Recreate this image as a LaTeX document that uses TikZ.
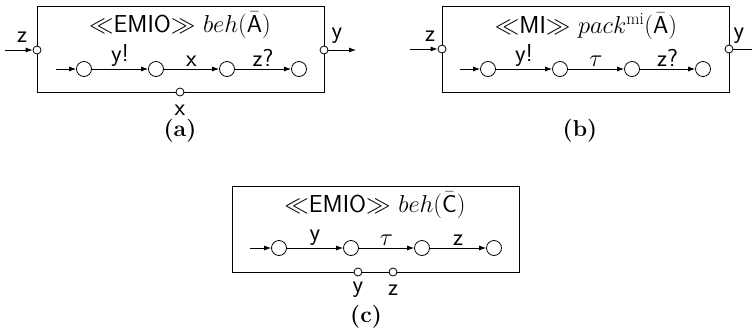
\RequirePackage{fix-cm}
\documentclass[tikz,border=0pt]{standalone}
\usepackage{fontspec}
\usetikzlibrary{arrows.meta}
\newcommand{\bigf}{\fontsize{24.5pt}{28pt}\selectfont}
\tikzset{
  box/.style={draw,line width=0.8pt},
  st/.style={draw,circle,minimum size=15pt,inner sep=0pt,line width=0.8pt},
  port/.style={draw,circle,fill=white,minimum size=8pt,inner sep=0pt,line width=0.8pt},
  tr/.style={line width=0.8pt,-{Latex[length=7pt,width=5pt]}},
  lbl/.style={above,inner sep=2.5pt,font=\bigf\sffamily},
  txt/.style={font=\bigf\sffamily},
  figcap/.style={font=\fontsize{23pt}{27pt}\selectfont\bfseries\rmfamily},
  ttl/.style={inner sep=0pt,font=\bigf\sffamily}}
\begin{document}
\begin{tikzpicture}[x=1pt,y=-1pt,font=\bigf\sffamily]
\useasboundingbox (0,0) rectangle (752,335);
% ---------- (a)
\node[box,minimum width=287pt,minimum height=86pt,inner sep=0pt] (ba) at (180.5,49) {};
\node[ttl] (ta) at (180,25) {$\ll$EMIO$\gg$ $beh(\bar{\textsf{A}})$};
\node[port] (pza) at (37,50) {};
\node[port] (pya) at (324,50) {};
\node[port] (pxa) at (180,92) {};
\coordinate (iza) at (5,50);
\coordinate (oya) at (356,50);
\draw[tr] (iza) -- (pza);
\draw[tr] (pya) -- (oya);
\node[txt] (lza) at (22,37) {z};
\node[txt] (lya) at (337,36) {y};
\node[txt] (lxa) at (180,110) {x};
\node[st] (a1) at (84,69) {};
\node[st] (a2) at (156,69) {};
\node[st] (a3) at (227,69) {};
\node[st] (a4) at (299,69) {};
\coordinate (a0) at (56,69);
\draw[tr] (a0) -- (a1);
\draw[tr] (a1) -- node[lbl] {y!} (a2);
\draw[tr] (a2) -- node[lbl] {x} (a3);
\draw[tr] (a3) -- node[lbl] {z?} (a4);
\node[figcap] (ca) at (180,131) {(a)};
% ---------- (b)
\node[box,minimum width=287pt,minimum height=86pt,inner sep=0pt] (bb) at (585.5,49) {};
\node[ttl] (tb) at (586,26) {$\ll$MI$\gg$ $pack^{\mathrm{mi}}(\bar{\textsf{A}})$};
\node[port] (pzb) at (442,49) {};
\node[port] (pyb) at (729,49) {};
\coordinate (izb) at (410,49);
\coordinate (oyb) at (762,49);
\draw[tr] (izb) -- (pzb);
\draw[tr] (pyb) -- (oyb);
\node[txt] (lzb) at (430,36) {z};
\node[txt] (lyb) at (739,36) {y};
\node[st] (b1) at (488,69) {};
\node[st] (b2) at (560,69) {};
\node[st] (b3) at (632,69) {};
\node[st] (b4) at (703,69) {};
\coordinate (b0) at (460,69);
\draw[tr] (b0) -- (b1);
\draw[tr] (b1) -- node[lbl] {y!} (b2);
\draw[tr] (b2) -- node[lbl] {$\tau$} (b3);
\draw[tr] (b3) -- node[lbl] {z?} (b4);
\node[figcap] (cb) at (580,131) {(b)};
% ---------- (c)
\node[box,minimum width=287pt,minimum height=86pt,inner sep=0pt] (bc) at (375.5,229) {};
\node[ttl] (tc) at (375,205) {$\ll$EMIO$\gg$ $beh(\bar{\textsf{C}})$};
\node[port] (pyc) at (358,272) {};
\node[port] (pzc) at (393,272) {};
\node[txt] (lyc) at (358,290) {y};
\node[txt] (lzc) at (393,290) {z};
\node[st] (c1) at (279,248) {};
\node[st] (c2) at (351,248) {};
\node[st] (c3) at (422,248) {};
\node[st] (c4) at (494,248) {};
\coordinate (c0) at (250,248);
\draw[tr] (c0) -- (c1);
\draw[tr] (c1) -- node[lbl] {y} (c2);
\draw[tr] (c2) -- node[lbl] {$\tau$} (c3);
\draw[tr] (c3) -- node[lbl] {z} (c4);
\node[figcap] (cc) at (366,317) {(c)};
\end{tikzpicture}
\end{document}
